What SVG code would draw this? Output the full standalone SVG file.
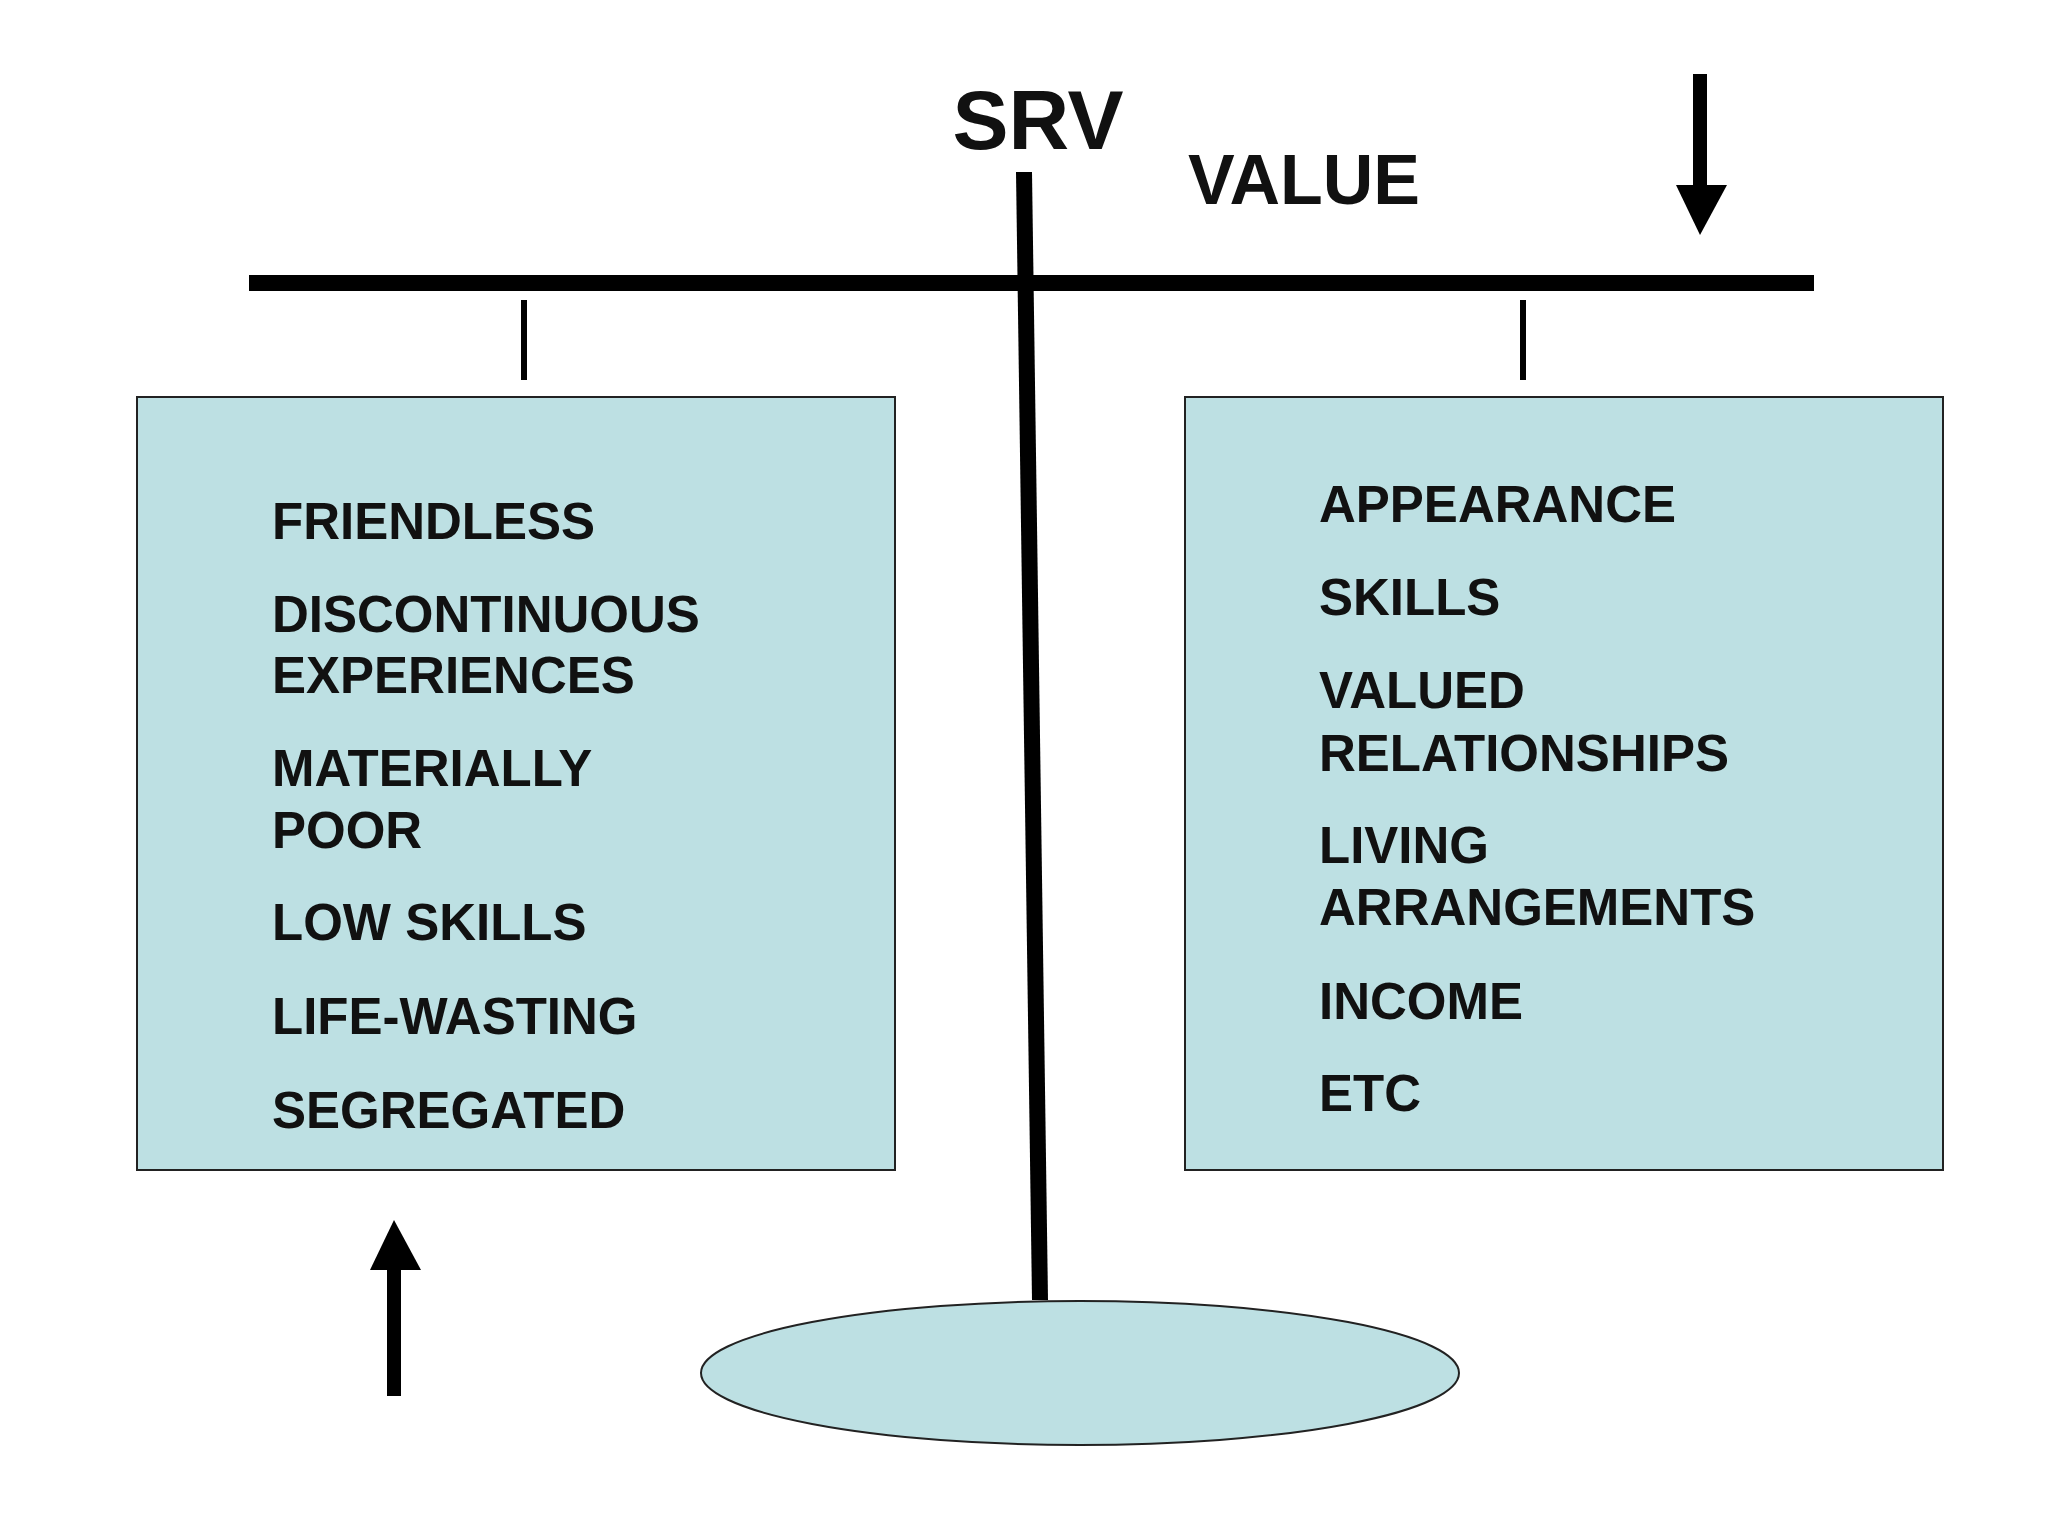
<svg xmlns="http://www.w3.org/2000/svg" width="2048" height="1536" viewBox="0 0 2048 1536">
<style>
.t{font-family:"Liberation Sans",Arial,sans-serif;font-weight:bold;fill:#111}
.b{font-size:51px}
.box{fill:#bde0e3;stroke:#222;stroke-width:2}
</style>
<rect width="2048" height="1536" fill="#fff"/>
<g id="connectors" stroke="#000" fill="none">
<line x1="249" y1="283" x2="1814" y2="283" stroke-width="16"/>
<line x1="1024" y1="172" x2="1040" y2="1300" stroke-width="16"/>
<line x1="524" y1="300" x2="524" y2="380" stroke-width="6"/>
<line x1="1523" y1="300" x2="1523" y2="380" stroke-width="6"/>
<line x1="1700" y1="74" x2="1700" y2="190" stroke-width="14"/>
<polygon points="1676,185 1727,185 1700,235" fill="#000" stroke="none"/>
<line x1="394" y1="1265" x2="394" y2="1396" stroke-width="14"/>
<polygon points="370,1270 421,1270 394,1220" fill="#000" stroke="none"/>
</g>
<g id="title">
<text class="t" x="1038" y="149" font-size="84" text-anchor="middle">SRV</text>
<text class="t" x="1188" y="204" font-size="70">VALUE</text>
</g>
<g id="base"><ellipse cx="1080" cy="1373" rx="379" ry="72" class="box"/></g>
<g id="left">
<rect x="137" y="397" width="758" height="773" class="box"/>
<text class="t b" x="272" y="539">FRIENDLESS</text>
<text class="t b" x="272" y="632">DISCONTINUOUS</text>
<text class="t b" x="272" y="693">EXPERIENCES</text>
<text class="t b" x="272" y="786">MATERIALLY</text>
<text class="t b" x="272" y="848">POOR</text>
<text class="t b" x="272" y="940">LOW SKILLS</text>
<text class="t b" x="272" y="1034">LIFE-WASTING</text>
<text class="t b" x="272" y="1128">SEGREGATED</text>
</g>
<g id="right">
<rect x="1185" y="397" width="758" height="773" class="box"/>
<text class="t b" x="1319" y="522">APPEARANCE</text>
<text class="t b" x="1319" y="615">SKILLS</text>
<text class="t b" x="1319" y="708">VALUED</text>
<text class="t b" x="1319" y="771">RELATIONSHIPS</text>
<text class="t b" x="1319" y="863">LIVING</text>
<text class="t b" x="1319" y="925">ARRANGEMENTS</text>
<text class="t b" x="1319" y="1019">INCOME</text>
<text class="t b" x="1319" y="1111">ETC</text>
</g>
</svg>
